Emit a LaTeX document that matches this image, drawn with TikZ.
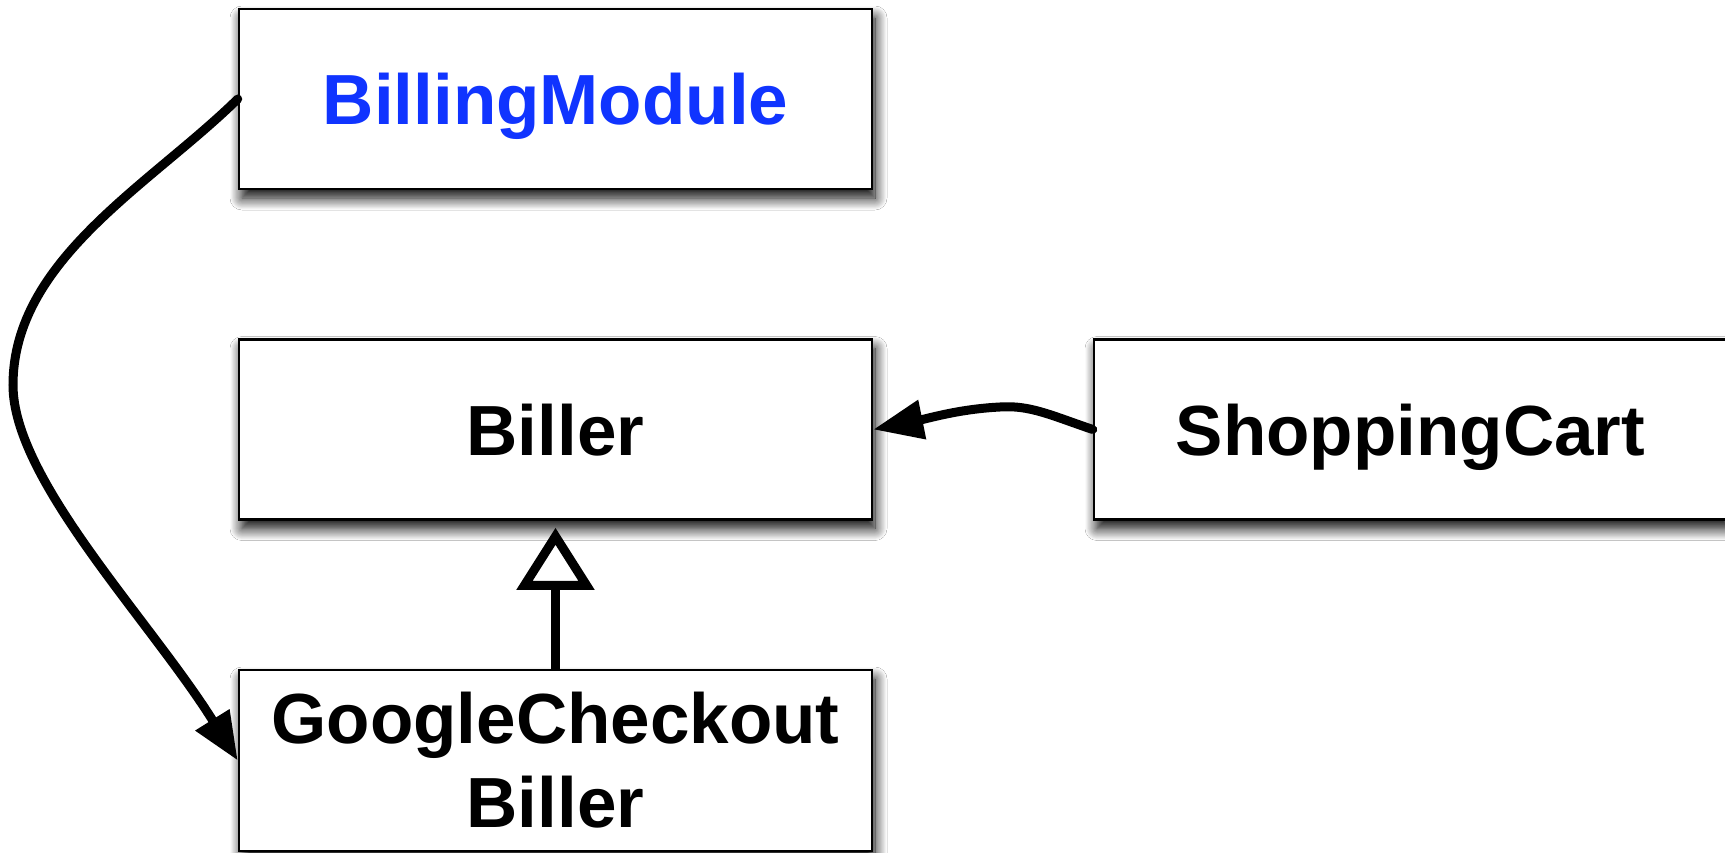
\documentclass[tikz,border=0pt]{standalone}
\usepackage{fontspec}
\setmainfont{Liberation Sans}
\usetikzlibrary{arrows.meta,shadows.blur}
\definecolor{modblue}{RGB}{16,52,255}
\begin{document}
\begin{tikzpicture}[x=1pt,y=-1pt,
  cls/.style={draw=black, line width=2.5pt, fill=white, minimum width=633pt,
    minimum height=180pt, inner sep=0pt,
    font=\fontsize{71}{84}\selectfont\bfseries,
    blur shadow={shadow xshift=3pt, shadow yshift=-9pt, shadow blur radius=12pt,
      shadow blur steps=16, shadow opacity=100}},
  one/.style={text height=51pt, text depth=0pt},
  conn/.style={line width=9pt, draw=black, line cap=round}]
\path[use as bounding box, clip] (0,0) rectangle (1725,853);
\fill[white] (0,0) rectangle (1725,853);
\node[cls, one, text=modblue] (bm) at (555.5,99) {BillingModule};
\node[cls, one] (bil) at (555.5,429.5) {Biller};
\node[cls, one] (sc) at (1410.5,429.5) {ShoppingCart};
\node[cls, minimum height=181pt, align=center] (gcb) at (555.5,760.5) {GoogleCheckout\\Biller};
\draw[conn, -{Triangle[length=48pt, width=38pt]}] (bm.west)
  .. controls (150,185) and (13,260) .. (13,385)
  .. controls (13,480) and (150,620) .. (gcb.west);
\draw[conn, -{Triangle[length=50pt, width=38pt]}] (sc.west)
  .. controls (1050,415) and (1030,405) .. (1000,407)
  .. controls (960,409) and (930,418) .. (bil.east);
\draw[conn, line cap=butt, -{Triangle[length=62pt, width=76pt, fill=white]}] (gcb.north) -- ([yshift=-7pt]bil.south);
\end{tikzpicture}
\end{document}
